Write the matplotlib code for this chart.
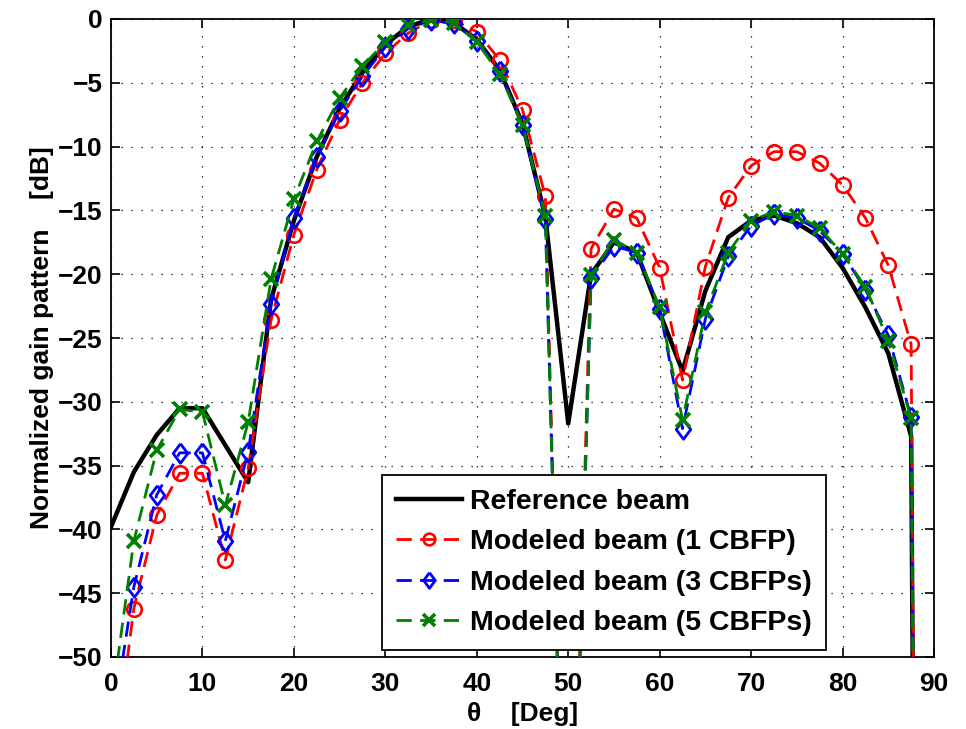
import matplotlib
matplotlib.use("Agg")
import matplotlib.pyplot as plt
import numpy as np

plt.rcParams['font.family'] = ['Liberation Sans', 'DejaVu Sans']
plt.rcParams['font.weight'] = 'bold'

theta = [0, 2.5, 5, 7.5, 10, 12.5, 15, 17.5, 20, 22.5, 25, 27.5, 30, 32.5, 35,
         37.5, 40, 42.5, 45, 47.5, 50, 52.5, 55, 57.5, 60, 62.5, 65, 67.5, 70,
         72.5, 75, 77.5, 80, 82.5, 85, 87.5, 90]

ref_beam = [-39.8, -35.5, -32.6, -30.5, -30.5, -33.4, -36.3, -22.0, -15.8, -10.8,
            -7.0, -4.2, -2.0, -0.6, 0.0, -0.3, -1.6, -4.0, -8.2, -15.5, -31.7,
            -20.0, -17.5, -18.3, -23.0, -27.6, -21.3, -17.1, -15.8, -15.4, -16.0,
            -17.1, -19.5, -22.6, -26.2, -32.7, -300]

cbfp1 = [-60, -46.2, -38.9, -35.6, -35.6, -42.4, -35.2, -23.6, -16.9, -11.8, -7.9,
         -5.0, -2.7, -1.1, -0.1, -0.1, -1.0, -3.2, -7.1, -13.9, -82, -18.0, -14.9,
         -15.6, -19.5, -28.3, -19.4, -14.0, -11.5, -10.4, -10.4, -11.3, -13.0,
         -15.6, -19.3, -25.5, -300]

cbfp3 = [-56, -44.5, -37.3, -34.0, -34.0, -40.9, -33.9, -22.3, -15.6, -10.8, -7.2,
         -4.5, -2.2, -0.75, -0.1, -0.35, -1.7, -4.1, -8.3, -15.7, -82, -20.3, -17.8,
         -18.3, -22.7, -32.1, -23.5, -18.6, -16.2, -15.3, -15.6, -16.6, -18.4,
         -21.2, -24.8, -31.2, -300]

cbfp5 = [-54, -40.9, -33.8, -30.6, -30.8, -38.1, -31.6, -20.4, -14.1, -9.6, -6.2,
         -3.7, -1.8, -0.5, -0.05, -0.3, -1.8, -4.3, -8.3, -15.4, -82, -20.1, -17.3,
         -18.3, -22.6, -31.4, -23.0, -18.3, -15.8, -15.1, -15.4, -16.4, -18.4,
         -21.0, -25.2, -31.3, -300]

labels = ['Reference beam', 'Modeled beam (1 CBFP)',
          'Modeled beam (3 CBFPs)', 'Modeled beam (5 CBFPs)']

diamond = [(0, 1), (0.75, 0), (0, -1), (-0.75, 0), (0, 1)]

fig = plt.figure(figsize=(9.66, 7.29), dpi=100)
ax = fig.add_axes([111 / 966, 72 / 729, 823 / 966, 638 / 729])

dash = (5.5, 3)
ax.plot(theta, ref_beam, color='black', lw=3.2, label=labels[0], zorder=2)
ax.plot(theta, cbfp1, color='red', lw=2, dashes=dash, marker='o',
        ms=10.5, mfc='none', mew=1.9, label=labels[1], zorder=3)
ax.plot(theta, cbfp3, color='blue', lw=2, dashes=dash, marker=diamond,
        ms=14, mfc='none', mew=2, label=labels[2], zorder=4)
ax.plot(theta, cbfp5, color=(0, 0.5, 0), lw=2, dashes=dash, marker='x',
        ms=10.5, mew=2.6, label=labels[3], zorder=5)

ax.set_xlim(0, 90)
ax.set_ylim(-50, 0)
ax.set_xticks(np.arange(0, 91, 10))
ax.set_yticks(np.arange(-50, 1, 5))
ax.tick_params(direction='in', top=True, right=True, labelsize=19, length=6.5, width=1.2)
ax.tick_params(axis='x', pad=11)
ax.tick_params(axis='y', pad=6)
for lbl in ax.get_xticklabels() + ax.get_yticklabels():
    lbl.set_fontweight('bold')
ax.grid(True, linestyle=(0, (1, 7)), color='black', lw=0.9)
for sp in ax.spines.values():
    sp.set_linewidth(1.3)

ax.set_xlabel('θ    [Deg]', fontsize=19, fontweight='bold', labelpad=4)
ax.set_ylabel('Normalized gain pattern    [dB]', fontsize=19, fontweight='bold', labelpad=2.5)

leg = ax.legend(loc='lower right', bbox_to_anchor=(0.869, 0.011),
                prop={'weight': 'bold', 'size': 20.5}, frameon=True, fancybox=False,
                edgecolor='black', framealpha=1, handlelength=2.3,
                borderpad=0.5, labelspacing=0.5, handletextpad=0.3,
                borderaxespad=0, markerscale=0.8)
leg.get_frame().set_linewidth(1.3)

fig.savefig('out.png', dpi=100)
